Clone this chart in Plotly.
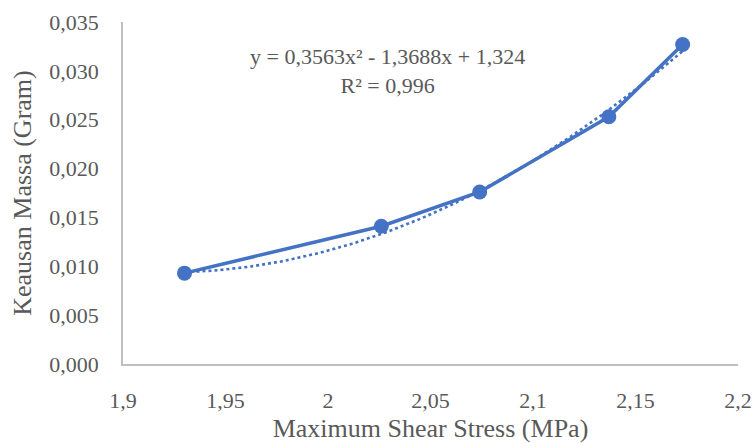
import numpy as np
import plotly.graph_objects as go

# Measured data
shear_stress = [1.930, 2.026, 2.074, 2.137, 2.173]   # MPa
wear_mass = [0.0093, 0.0141, 0.0176, 0.0253, 0.0327]  # gram

# Polynomial trendline coefficients (order 2)
coef_a, coef_b, coef_c = 0.3563, -1.3688, 1.324
r_squared = "0,996"

x_tickvals = [1.9, 1.95, 2.0, 2.05, 2.1, 2.15, 2.2]
x_ticktext = ["1,9", "1,95", "2", "2,05", "2,1", "2,15", "2,2"]
y_tickvals = [0.0, 0.005, 0.010, 0.015, 0.020, 0.025, 0.030, 0.035]
y_ticktext = ["0,000", "0,005", "0,010", "0,015", "0,020", "0,025", "0,030", "0,035"]

BLUE = "#4472C4"
GREY_TXT = "#595959"
FONT = "Liberation Serif"

# plot-area edges in pixels
plot_l, plot_r, plot_t, plot_b = 123, 738, 22, 364

trend_x = np.linspace(min(shear_stress), max(shear_stress), 120)
trend_y = coef_a * trend_x ** 2 + coef_b * trend_x + coef_c

fig = go.Figure()
fig.add_trace(go.Scatter(
    x=trend_x, y=trend_y, mode="lines",
    line=dict(color=BLUE, width=2.6, dash="dot"),
    hoverinfo="skip", showlegend=False,
))
fig.add_trace(go.Scatter(
    x=shear_stress, y=wear_mass, mode="lines+markers",
    line=dict(color=BLUE, width=3.5),
    marker=dict(color=BLUE, size=15),
    showlegend=False,
))

# trendline equation label, centred at pixel (387, 71)
eq_text = "y = 0,3563x² - 1,3688x + 1,324<br>R² = " + r_squared
fig.add_annotation(
    x=(387 - plot_l) / (plot_r - plot_l),
    y=(plot_b - 71) / (plot_b - plot_t),
    xref="paper", yref="paper", xanchor="center", yanchor="middle",
    text=eq_text, showarrow=False, align="center",
    font=dict(family=FONT, size=22, color=GREY_TXT),
)

fig.update_layout(
    width=755, height=443,
    margin=dict(l=plot_l, r=755 - plot_r, t=plot_t, b=443 - plot_b),
    paper_bgcolor="white", plot_bgcolor="white",
    font=dict(family=FONT, size=22, color=GREY_TXT),
)
fig.update_xaxes(
    range=[1.9, 2.2], tickvals=x_tickvals, ticktext=x_ticktext,
    showline=True, linecolor="#BFBFBF", linewidth=1.5,
    showgrid=False, zeroline=False, ticks="", automargin=False,
    ticklabelstandoff=16,
    tickfont=dict(family=FONT, size=22, color=GREY_TXT),
    title=dict(text="Maximum Shear Stress (MPa)", standoff=8,
               font=dict(family=FONT, size=26, color=GREY_TXT)),
)
fig.update_yaxes(
    range=[0, 0.035], tickvals=y_tickvals, ticktext=y_ticktext,
    showline=True, linecolor="#BFBFBF", linewidth=1.5,
    showgrid=False, zeroline=False, ticks="", automargin=False,
    ticklabelstandoff=18,
    tickfont=dict(family=FONT, size=22, color=GREY_TXT),
    title=dict(text="Keausan Massa (Gram)", standoff=10,
               font=dict(family=FONT, size=26, color=GREY_TXT)),
)

fig.write_html("out.html")
